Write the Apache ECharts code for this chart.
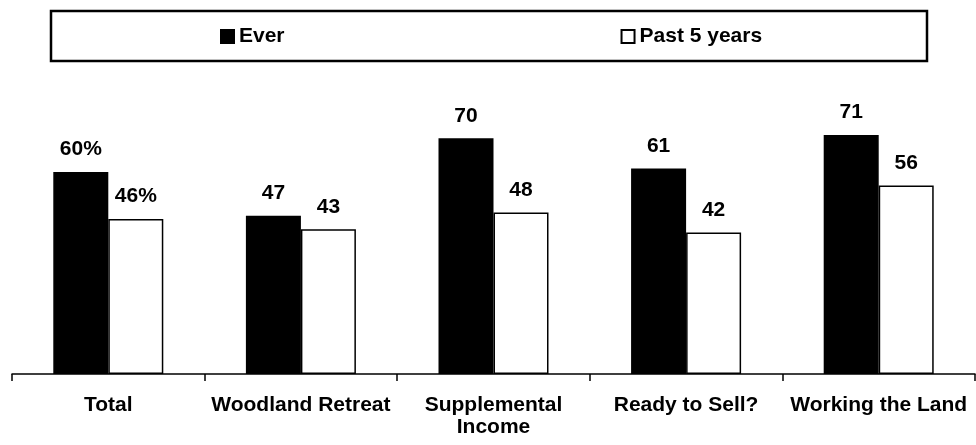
<!DOCTYPE html>
<html>
<head>
<meta charset="utf-8">
<script src="https://cdn.jsdelivr.net/npm/echarts@6/dist/echarts.min.js"></script>
<style>html,body{margin:0;padding:0;background:#fff;}#c{width:976px;height:445px;}</style>
</head>
<body>
<div id="c"></div>
<script>
const categories = ['Total', 'Woodland Retreat', 'Supplemental\nIncome', 'Ready to Sell?', 'Working the Land'];
const everValues = [60, 47, 70, 61, 71];
const pastValues = [46, 43, 48, 42, 56];
const seriesNames = ['Ever', 'Past 5 years'];

const FONT = '"Liberation Sans", Arial, sans-serif';
const chart = echarts.init(document.getElementById('c'), null, {renderer: 'canvas'});
const labelFmt = p => p.dataIndex === 0 ? p.value + '%' : String(p.value);
const labelStyle = {show: true, position: 'top', distance: 12, color: '#000', fontFamily: FONT, fontWeight: 'bold', fontSize: 21, formatter: labelFmt};

chart.setOption({
  animation: false,
  backgroundColor: '#fff',
  graphic: [{
    type: 'rect', shape: {x: 51, y: 11, width: 876, height: 50},
    style: {fill: 'none', stroke: '#000', lineWidth: 2.5}, z: 1
  }],
  legend: {
    left: 215, top: 21, itemGap: 336, itemWidth: 13, itemHeight: 13, itemGap: 336,
    textStyle: {fontFamily: FONT, fontWeight: 'bold', fontSize: 21, color: '#000'},
    data: seriesNames.map(n => ({name: n, icon: 'rect'}))
  },
  grid: {left: 12, right: 1, top: 37.3, bottom: 71, containLabel: false},
  xAxis: {
    type: 'category', data: categories,
    axisLine: {lineStyle: {color: '#000', width: 1.5}},
    axisTick: {show: true, length: 7, lineStyle: {color: '#000', width: 1.5}},
    axisLabel: {color: '#000', fontFamily: FONT, fontWeight: 'bold', fontSize: 21, margin: 20, lineHeight: 22, interval: 0}
  },
  yAxis: {type: 'value', min: 0, max: 100, show: false, splitLine: {show: false}},
  series: [
    {name: seriesNames[0], type: 'bar', data: everValues, barWidth: 55, barGap: '0%',
     itemStyle: {color: '#000', borderColor: '#000', borderWidth: 1.5}, label: labelStyle},
    {name: seriesNames[1], type: 'bar', data: pastValues, barWidth: 55, barGap: '0%',
     itemStyle: {color: '#fff', borderColor: '#000', borderWidth: 1.5}, label: labelStyle}
  ]
});
</script>
</body>
</html>
